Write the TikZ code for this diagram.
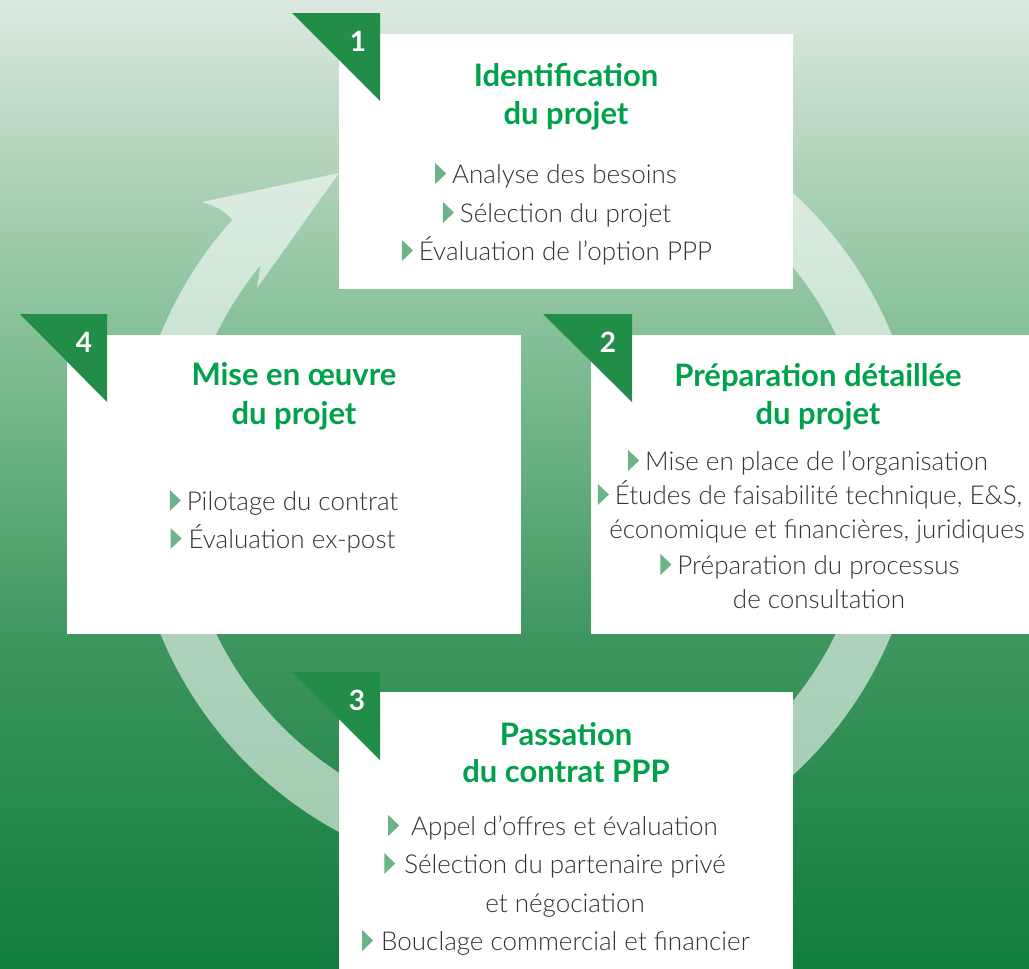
\documentclass[tikz,border=0pt]{standalone}
\usepackage{fontspec}
\setmainfont{Lato}
\newfontfamily\lightfont{Lato Light}
\usetikzlibrary{calc}
\definecolor{titlegreen}{HTML}{00A14B}
\definecolor{tabgreen}{HTML}{228C49}
\definecolor{bulgreen}{HTML}{6AB487}
\definecolor{bodygray}{HTML}{333333}
\definecolor{g0}{HTML}{DDE9E0}
\definecolor{g1}{HTML}{B6D5BE}
\definecolor{g2}{HTML}{8EC49F}
\definecolor{g3}{HTML}{62AD7B}
\definecolor{g4}{HTML}{3E965F}
\definecolor{g5}{HTML}{107D3C}
\pgfdeclareverticalshading{bgshade}{100bp}{color(0bp)=(g5); color(25bp)=(g5); color(42bp)=(g4); color(50bp)=(g3); color(59.5bp)=(g2); color(67.25bp)=(g1); color(75bp)=(g0); color(100bp)=(g0)}
\newcommand{\bul}[1][6pt]{\tikz[baseline=0pt]\fill[bulgreen] (0pt,-1pt) -- (0pt,20pt) -- (11pt,9.5pt) -- cycle;\hspace{#1}}
\tikzset{
  ring/.style={fill=white, fill opacity=0.58},
  box/.style={fill=white, inner sep=0pt, anchor=north west},
  tab/.style={fill=tabgreen},
  num/.style={font=\fontsize{28}{30}\selectfont\bfseries, text=white, inner sep=0pt, anchor=center},
  ttl/.style={font=\fontsize{31}{38}\selectfont\bfseries, text=titlegreen, inner sep=0pt, anchor=base},
  body/.style={font=\lightfont\fontsize{26}{36}\selectfont, text=bodygray, inner sep=0pt, anchor=base}
}
\begin{document}
\begin{tikzpicture}[x=1pt,y=-1pt]
\useasboundingbox (0,0) rectangle (1029,969);
\fill[shading=bgshade] (0,0) rectangle (1029,969);
% circular arrow
\fill[ring] (526,484) ++(-90:395) arc[start angle=-90, end angle=222, radius=395]
  .. controls (220,208) .. (202,202) -- (339,173) -- (257,288)
  -- ([shift={(526,484)}]219.5:344) arc[start angle=219.5, end angle=-90, radius=344] -- cycle;
% boxes
\node[box, minimum width=454pt, minimum height=255pt] (box1) at (339,34) {};
\node[box, minimum width=454pt, minimum height=299pt] (box4) at (67,335) {};
\node[box, minimum width=438pt, minimum height=299pt] (box2) at (591,335) {};
\node[box, minimum width=454pt, minimum height=277pt] (box3) at (339,692) {};
% tabs
\fill[tab] (292,13) -- (380,13) -- (380,101) -- cycle;
\fill[tab] (20,314) -- (107,314) -- (107,402) -- cycle;
\fill[tab] (543,314) -- (632,314) -- (632,402) -- cycle;
\fill[tab] (292,672) -- (380,672) -- (380,760) -- cycle;
\node[num] (n1) at (358,41) {1};
\node[num] (n4) at (84,342) {4};
\node[num] (n2) at (608,342) {2};
\node[num] (n3) at (357,700) {3};
% box 1
\node[ttl] (t1a) at (566,86) {Identification};
\node[ttl] (t1b) at (566,124) {du projet};
\node[body] (b1a) at (556,183) {\bul Analyse des besoins};
\node[body] (b1b) at (557,222) {\bul Sélection du projet};
\node[body] (b1c) at (557,260) {\bul Évaluation de l’option PPP};
% box 4
\node[ttl] (t4a) at (294,385) {Mise en œuvre};
\node[ttl] (t4b) at (294,424) {du projet};
\node[body] (b4a) at (284,510) {\bul Pilotage du contrat};
\node[body] (b4b) at (283,548) {\bul[7pt]Évaluation ex-post};
% box 2
\node[ttl] (t2a) at (818,386) {Préparation détaillée};
\node[ttl] (t2b) at (818,424) {du projet};
\node[body] (b2a) at (808,470) {\bul Mise en place de l’organisation};
\node[body] (b2b) at (810,504) {\bul Études de faisabilité technique, E\&S,};
\node[body] (b2c) at (817,538) {économique et financières, juridiques};
\node[body] (b2d) at (810,574) {\bul Préparation du processus};
\node[body] (b2e) at (819,608) {de consultation};
% box 3
\node[ttl] (t3a) at (566,745) {Passation};
\node[ttl] (t3b) at (566,782) {du contrat PPP};
\node[body] (b3a) at (553,835) {\bul[12pt]Appel d’offres et évaluation};
\node[body] (b3b) at (555,873) {\bul[9pt]Sélection du partenaire privé};
\node[body] (b3c) at (565,912) {et négociation};
\node[body] (b3d) at (556,950) {\bul[8pt]Bouclage commercial et financier};
\end{tikzpicture}
\end{document}
